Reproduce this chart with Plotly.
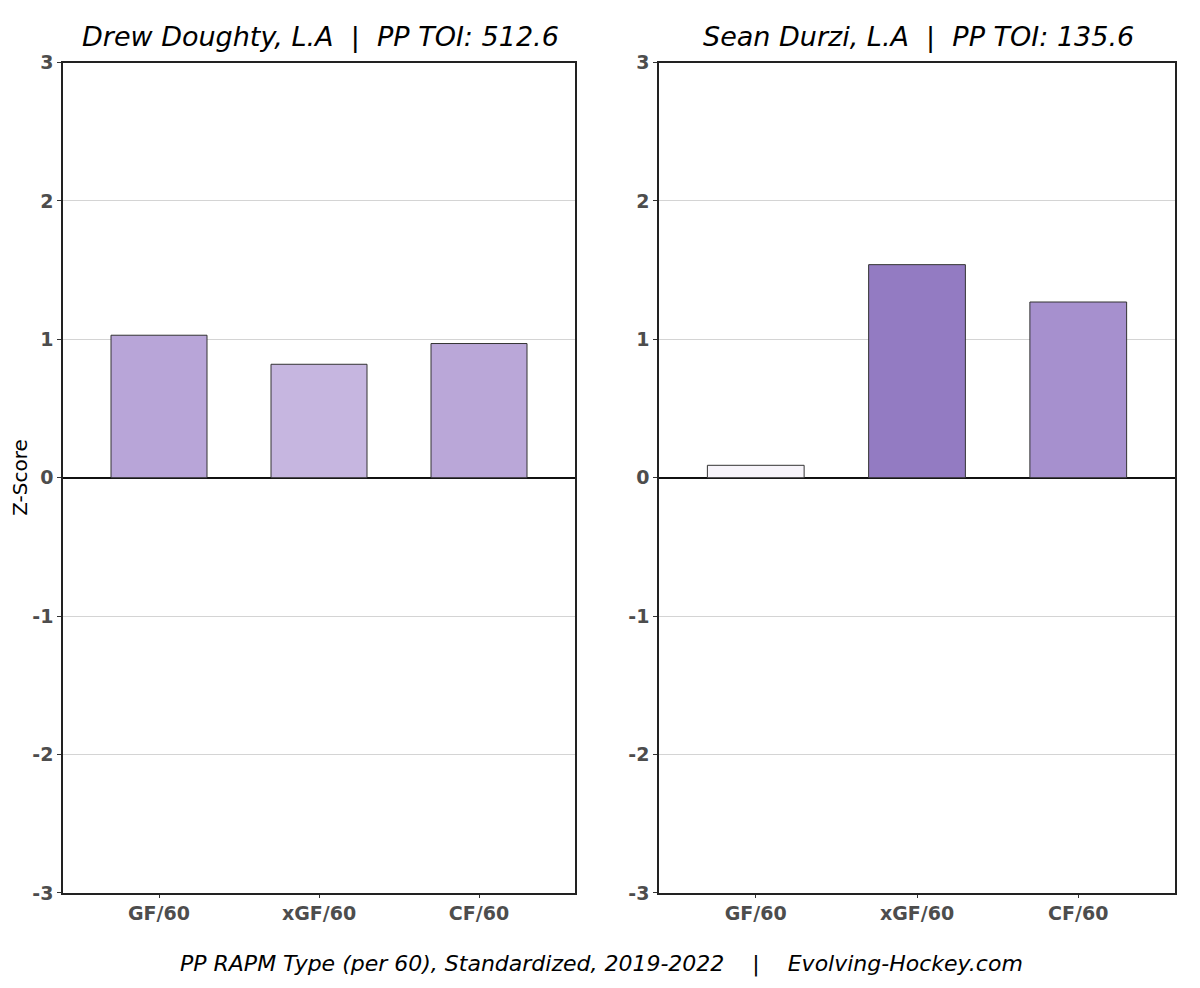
import plotly.graph_objects as go

metrics = ["GF/60", "xGF/60", "CF/60"]

# Drew Doughty (L.A) PP RAPM z-scores
doughty_vals = [1.03, 0.82, 0.97]
doughty_colors = ["#b8a5d8", "#c6b6e0", "#baa7d8"]

# Sean Durzi (L.A) PP RAPM z-scores
durzi_vals = [0.09, 1.54, 1.27]
durzi_colors = ["#f7f4fa", "#937bc2", "#a690ce"]

titles = ["Drew Doughty, L.A  |  PP TOI: 512.6", "Sean Durzi, L.A  |  PP TOI: 135.6"]
yticks = [-3, -2, -1, 0, 1, 2, 3]
ytick_text = ["-3", "-2", "-1", "0", "1", "2", "3"]

W, H = 1200, 988


# page pixel -> paper fraction (calibrated against the rendered page)
def px_x(p):
    return (p - 8) / W


def px_y(p):
    return 1 - (p - 18.3) / 968


fig = go.Figure()

fig.add_trace(go.Bar(x=metrics, y=doughty_vals, marker=dict(color=doughty_colors, line=dict(color="#333333", width=1)),
                     width=0.6, xaxis="x", yaxis="y", showlegend=False))
fig.add_trace(go.Bar(x=metrics, y=durzi_vals, marker=dict(color=durzi_colors, line=dict(color="#333333", width=1)),
                     width=0.6, xaxis="x2", yaxis="y2", showlegend=False))

tickfont = dict(family="DejaVu Sans", size=19, color="#4d4d4d", weight="bold")
xcommon = dict(range=[-0.6, 2.6], showgrid=False, showline=True, mirror=True, linecolor="#222222", linewidth=1.5,
               ticks="outside", ticklen=3, tickcolor="#333333", tickfont=tickfont)
ycommon = dict(range=[-3, 3], tickvals=yticks, ticktext=ytick_text, showgrid=True, gridcolor="#d4d4d4", gridwidth=1,
               zeroline=True, zerolinecolor="#111111", zerolinewidth=1.5,
               showline=True, mirror=True, linecolor="#222222", linewidth=1.5,
               ticks="outside", ticklen=4, tickcolor="#333333", tickfont=tickfont)

fig.update_layout(
    width=W, height=H,
    margin=dict(l=0, r=0, t=0, b=0),
    plot_bgcolor="white", paper_bgcolor="white",
    xaxis=dict(domain=[px_x(63), px_x(575)], anchor="y", **xcommon),
    xaxis2=dict(domain=[px_x(659), px_x(1175)], anchor="y2", **xcommon),
    yaxis=dict(domain=[px_y(894), px_y(62)], anchor="x", **ycommon),
    yaxis2=dict(domain=[px_y(894), px_y(62)], anchor="x2", **ycommon),
)

fig.add_annotation(xref="paper", yref="paper", x=px_x(320.5), y=px_y(36), showarrow=False,
                   text="<i>" + titles[0] + "</i>", font=dict(family="DejaVu Sans", size=27, color="black"),
                   xanchor="center", yanchor="middle")
fig.add_annotation(xref="paper", yref="paper", x=px_x(918.5), y=px_y(36), showarrow=False,
                   text="<i>" + titles[1] + "</i>", font=dict(family="DejaVu Sans", size=27, color="black"),
                   xanchor="center", yanchor="middle")
fig.add_annotation(xref="paper", yref="paper", x=px_x(601), y=px_y(965), showarrow=False,
                   text="<i>PP RAPM Type (per 60), Standardized, 2019-2022    |    Evolving-Hockey.com</i>",
                   font=dict(family="DejaVu Sans", size=22, color="black"), xanchor="center", yanchor="middle")
fig.add_annotation(xref="paper", yref="paper", x=px_x(20), y=px_y(478), showarrow=False, textangle=-90,
                   text="Z-Score", font=dict(family="DejaVu Sans", size=20, color="black"),
                   xanchor="center", yanchor="middle")

fig.write_html("out.html")
